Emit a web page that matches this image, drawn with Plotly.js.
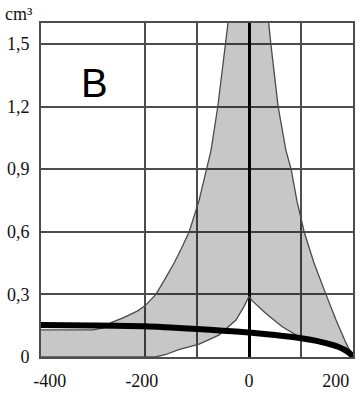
<!DOCTYPE html>
<html>
<head>
<meta charset="utf-8">
<script src="https://cdn.plot.ly/plotly-3.0.1.min.js"></script>
<style>html,body{margin:0;padding:0;background:#fff;}#chart{width:363px;height:400px;}</style>
</head>
<body>
<div id="chart"></div>
<script>
// Upper edge of the grey band (left to right)
const upperX = [-400, -300, -280, -265, -240, -215, -200, -190, -179, -160, -144, -130, -115, -96, -81, -73, -60, -46, -40, -33, 0, 33, 37, 42, 56, 71, 81, 92, 106, 125, 148, 167, 186, 200];
const upperY = [0.13, 0.13, 0.14, 0.165, 0.19, 0.22, 0.245, 0.27, 0.30, 0.38, 0.45, 0.52, 0.60, 0.75, 0.90, 0.99, 1.20, 1.50, 1.62, 1.75, 1.90, 1.75, 1.62, 1.50, 1.20, 0.99, 0.90, 0.75, 0.60, 0.45, 0.30, 0.18, 0.07, 0.0];
// Lower edge of the grey band (left to right)
const lowerX = [-400, -180, -160, -135, -96, -58, -25, -10, 0, 6, 32, 64, 83, 100, 130, 150, 170, 185, 200];
const lowerY = [0, 0, 0.012, 0.035, 0.062, 0.105, 0.177, 0.24, 0.29, 0.27, 0.21, 0.145, 0.116, 0.092, 0.079, 0.067, 0.052, 0.035, 0.0];
// Black curve
const curveX = [-400, -300, -200, -100, -50, 0, 50, 100, 130, 150, 170, 185, 195, 200];
const curveY = [0.153, 0.151, 0.147, 0.134, 0.126, 0.117, 0.105, 0.09, 0.077, 0.065, 0.05, 0.033, 0.015, 0.0];
// Axis ticks
const yTickVals = [0, 0.3, 0.6, 0.9, 1.2, 1.5];
const yTickText = ["0", "0,3", "0,6", "0,9", "1,2", "1,5"];
const xLabelPos = [-383, -206, 0, 167];
const xTickText = ["-400", "-200", "0", "200"];
const xGridVals = [-200, -100, 100];

const polyX = upperX.concat(lowerX.slice().reverse());
const polyY = upperY.concat(lowerY.slice().reverse());

const traces = [
  {x: polyX, y: polyY, type: 'scatter', mode: 'lines', fill: 'toself',
   fillcolor: 'rgba(0,0,0,0.22)', line: {color: '#4a4a4a', width: 1.3}, hoverinfo: 'skip'},
  {x: curveX, y: curveY, type: 'scatter', mode: 'lines',
   line: {color: '#000', width: 6, shape: 'spline', smoothing: 0.6}, hoverinfo: 'skip'}
];

const serif = 'Liberation Serif';
const gridC = '#4d4d4d';
const layout = {
  width: 363, height: 400,
  margin: {l: 41, r: 10, t: 23, b: 43},
  paper_bgcolor: '#fff', plot_bgcolor: '#fff',
  showlegend: false,
  font: {family: serif, size: 18, color: '#111'},
  xaxis: {
    range: [-400, 200], fixedrange: true,
    tickvals: xLabelPos, ticktext: xTickText, ticks: '',
    tickfont: {family: serif, size: 18, color: '#111'},
    showgrid: false,
    minor: {tickvals: xGridVals, showgrid: true, gridcolor: gridC, gridwidth: 2, ticks: ''},
    zeroline: true, zerolinecolor: '#000', zerolinewidth: 3,
    showline: true, mirror: true, linecolor: gridC, linewidth: 2,
    ticklabelstandoff: 6
  },
  yaxis: {
    range: [0, 1.6], fixedrange: true,
    tickvals: yTickVals, ticktext: yTickText, ticks: '',
    tickfont: {family: serif, size: 18, color: '#111'},
    showgrid: true, gridcolor: gridC, gridwidth: 2,
    zeroline: false,
    showline: true, mirror: true, linecolor: gridC, linewidth: 2,
    ticklabelstandoff: 6
  },
  annotations: [
    {text: 'cm³', xref: 'paper', yref: 'paper', x: -0.122, y: 1.0, xanchor: 'left', yanchor: 'bottom',
     showarrow: false, font: {size: 18, family: serif, color: '#111'}, yshift: -3},
    {text: 'B', xref: 'paper', yref: 'paper', x: 0.17, y: 0.82, xanchor: 'center', yanchor: 'middle',
     showarrow: false, font: {size: 40, family: 'Liberation Sans', color: '#000'}}
  ]
};

Plotly.newPlot('chart', traces, layout, {displayModeBar: false, staticPlot: true});
</script>
</body>
</html>
